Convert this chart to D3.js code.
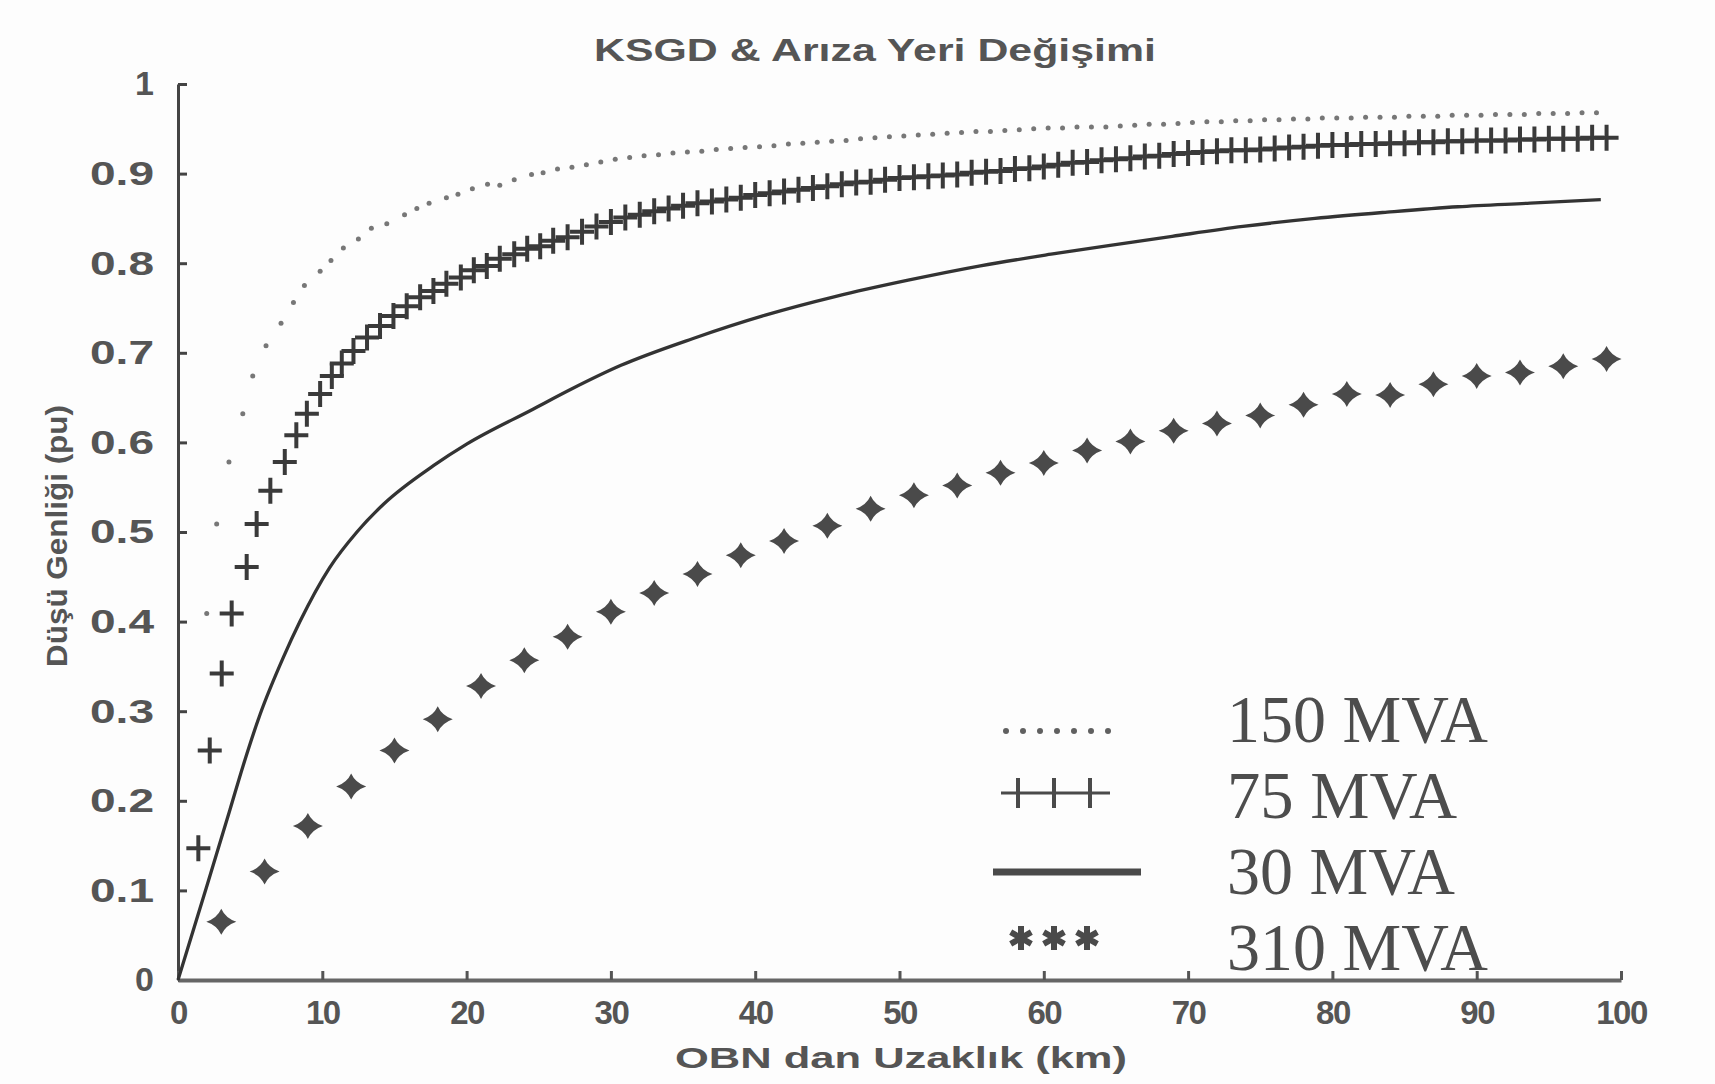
<!DOCTYPE html>
<html><head><meta charset="utf-8">
<script src="https://cdn.jsdelivr.net/npm/d3@7"></script>
<style>html,body{margin:0;padding:0;background:#fff;}svg{display:block;}</style>
</head><body>
<div id="chart"></div>
<script>
// ---------- DATA ----------
const chartTitle = "KSGD & Arıza Yeri Değişimi";
const xLabel = "OBN dan Uzaklık (km)";
const yLabel = "Düşü Genliği (pu)";
const xTicks = [0,10,20,30,40,50,60,70,80,90,100];
const xTickLabels = ["0","10","20","30","40","50","60","70","80","90","100"];
const yTicks = [0,0.1,0.2,0.3,0.4,0.5,0.6,0.7,0.8,0.9,1];
const yTickLabels = ["0","0.1","0.2","0.3","0.4","0.5","0.6","0.7","0.8","0.9","1"];
const seriesNames = ["150 MVA","75 MVA","30 MVA","310 MVA"];

// 150 MVA (dotted)
const km150 = [1.99,2.68,3.53,4.49,5.18,6.1,7.14,8.0,8.76,9.85,10.6,11.46,12.5,13.4,14.47,15.7,16.55,17.4,18.6,19.4,20.4,21.45,22.3,23.3,24.5,25.3,26.3,
 27.3,28.3,29.3,30.3,31.3,32.3,33.3,34.3,35.3,36.3,37.3,38.3,39.3,40.3,41.3,42.3,43.3,44.3,45.3,46.3,47.3,48.3,49.3,50.3,51.3,52.3,53.3,54.3,55.3,56.3,57.3,58.3,59.3,60.3,61.3,62.3,63.3,64.3,65.3,66.3,67.3,68.3,69.3,70.3,71.3,72.3,73.3,74.3,75.3,76.3,77.3,78.3,79.3,80.3,81.3,82.3,83.3,84.3,85.3,86.3,87.3,88.3,89.3,90.3,91.3,92.3,93.3,94.3,95.3,96.3,97.3,98.3];
const v150 = [0.409,0.509,0.578,0.632,0.674,0.708,0.733,0.756,0.775,0.791,0.803,0.817,0.827,0.839,0.844,0.854,0.861,0.867,0.873,0.877,0.883,0.888,0.887,0.893,0.899,0.901,0.905,
 0.907,0.910,0.913,0.916,0.918,0.920,0.921,0.923,0.924,0.925,0.927,0.928,0.929,0.930,0.931,0.933,0.934,0.935,0.936,0.937,0.939,0.940,0.941,0.942,0.943,0.944,0.945,0.946,0.947,0.947,0.948,0.949,0.950,0.951,0.951,0.952,0.952,0.952,0.953,0.954,0.955,0.955,0.956,0.957,0.958,0.958,0.959,0.959,0.960,0.960,0.961,0.961,0.962,0.962,0.962,0.963,0.963,0.963,0.964,0.964,0.964,0.965,0.965,0.965,0.966,0.966,0.966,0.967,0.967,0.967,0.968,0.968,0.968];

// 75 MVA (plus markers)
const km75 = [1.41,2.2,3.03,3.72,4.76,5.45,6.4,7.4,8.2,8.93,9.85,10.66,11.35,12.16,13.1,14.0,14.93,15.85,16.78,17.7,18.6,19.6,20.5,21.4,22.3,23.3,24.2,25.1,26.0,27.0,
 28,29,30,31,32,33,34,35,36,37,38,39,40,41,42,43,44,45,46,47,48,49,50,51,52,53,54,55,56,57,58,59,60,61,62,63,64,65,66,67,68,69,70,71,72,73,74,75,76,77,78,79,80,81,82,83,84,85,86,87,88,89,90,91,92,93,94,95,96,97,98,99];
const v75 = [0.147,0.256,0.342,0.409,0.461,0.509,0.546,0.578,0.608,0.632,0.654,0.674,0.688,0.702,0.717,0.730,0.741,0.752,0.762,0.769,0.777,0.784,0.792,0.797,0.805,0.810,0.816,0.819,0.825,0.829,
 0.835,0.841,0.846,0.851,0.854,0.858,0.861,0.864,0.867,0.869,0.871,0.873,0.876,0.878,0.880,0.882,0.884,0.886,0.888,0.890,0.891,0.893,0.895,0.896,0.897,0.898,0.899,0.901,0.902,0.903,0.905,0.906,0.908,0.910,0.912,0.913,0.915,0.916,0.917,0.919,0.920,0.922,0.923,0.924,0.925,0.926,0.926,0.927,0.928,0.929,0.930,0.931,0.932,0.932,0.933,0.933,0.934,0.934,0.935,0.935,0.936,0.936,0.937,0.937,0.937,0.938,0.938,0.939,0.939,0.939,0.940,0.940];

// 30 MVA (solid line)
const km30 = [0,2.0,3.6,4.53,5.68,7.3,8.45,10.5,12.4,14.24,17.7,20.0,24.6,27.2,30.7,35.7,40.7,45.6,50.6,55.6,60.5,64.6,68.9,73.8,78.8,83.8,88.7,93.7,98.6];
const v30 = [0,0.105,0.190,0.240,0.296,0.360,0.400,0.460,0.500,0.531,0.574,0.598,0.637,0.659,0.686,0.716,0.742,0.763,0.781,0.797,0.810,0.820,0.830,0.841,0.850,0.857,0.863,0.867,0.871];

// 310 MVA (star markers)
const km310 = [3,6,9,12,15,18,21,24,27,30,33,36,39,42,45,48,51,54,57,60,63,66,69,72,75,78,81,84,87,90,93,96,99];
const v310 = [0.065,0.121,0.172,0.216,0.256,0.291,0.328,0.357,0.383,0.411,0.432,0.453,0.474,0.490,0.507,0.526,0.541,0.552,0.566,0.577,0.591,0.601,0.613,0.621,0.630,0.642,0.654,0.653,0.665,0.674,0.678,0.685,0.693];

// ---------- DRAWING ----------
const W = 1715, H = 1084;
const svg = d3.select("#chart").append("svg").attr("width", W).attr("height", H);
svg.append("rect").attr("width", W).attr("height", H).attr("fill", "#fdfdfd");

const x = d3.scaleLinear().domain([0,100]).range([178,1621]);
const y = d3.scaleLinear().domain([0,1]).range([980,84]);

const sans = "'Liberation Sans', Arial, sans-serif";
const serif = "'Liberation Serif', 'Times New Roman', serif";
const txt = "#555";

// title
svg.append("text").attr("x", 594).attr("y", 61)
  .attr("font-family", sans).attr("font-weight", "bold").attr("font-size", 31)
  .attr("fill", txt).attr("textLength", 562).attr("lengthAdjust", "spacingAndGlyphs")
  .text(chartTitle);

// y axis
const yAxis = svg.append("g").attr("transform", `translate(${x(0)},0)`)
  .call(d3.axisLeft(y).tickValues(yTicks).tickFormat((d,i)=>yTickLabels[i])
    .tickSizeInner(-9).tickSizeOuter(0).tickPadding(24));
yAxis.select(".domain").attr("stroke", "#444").attr("stroke-width", 3);
yAxis.selectAll(".tick line").attr("stroke", "#444").attr("stroke-width", 3);
yAxis.selectAll(".tick text").attr("font-family", sans).attr("font-weight", "bold")
  .attr("font-size", 34).attr("fill", txt)
  .each(function(d,i){ if (yTickLabels[i].length > 2) d3.select(this).attr("textLength", 64).attr("lengthAdjust","spacingAndGlyphs"); });

// x axis
const xAxis = svg.append("g").attr("transform", `translate(0,${y(0)})`)
  .call(d3.axisBottom(x).tickValues(xTicks).tickFormat((d,i)=>xTickLabels[i])
    .tickSizeInner(-9).tickSizeOuter(0).tickPadding(21));
xAxis.select(".domain").attr("stroke", "#666").attr("stroke-width", 4);
xAxis.selectAll(".tick line").attr("stroke", "#555").attr("stroke-width", 3);
xAxis.selectAll(".tick text").attr("font-family", sans).attr("font-weight", "bold")
  .attr("font-size", 33).attr("fill", txt).attr("letter-spacing", -1.5);

// axis labels
svg.append("text").attr("x", 675).attr("y", 1068)
  .attr("font-family", sans).attr("font-weight", "bold").attr("font-size", 30)
  .attr("fill", txt).attr("textLength", 452).attr("lengthAdjust", "spacingAndGlyphs")
  .text(xLabel);
svg.append("text").attr("transform", "translate(67,536) rotate(-90)")
  .attr("x", -131).attr("y", 0)
  .attr("font-family", sans).attr("font-weight", "bold").attr("font-size", 29)
  .attr("fill", txt).attr("textLength", 262).attr("lengthAdjust", "spacingAndGlyphs")
  .text(yLabel);

// symbol types
const plusType = { draw(ctx) { ctx.moveTo(-12,0); ctx.lineTo(12,0); ctx.moveTo(0,-13); ctx.lineTo(0,13); } };
const star4Type = { draw(ctx) {
  const rx = 15, ry = 13, c = 0.28;
  ctx.moveTo(rx,0);
  ctx.quadraticCurveTo(rx*c, ry*c, 0, ry);
  ctx.quadraticCurveTo(-rx*c, ry*c, -rx, 0);
  ctx.quadraticCurveTo(-rx*c, -ry*c, 0, -ry);
  ctx.quadraticCurveTo(rx*c, -ry*c, rx, 0);
  ctx.closePath();
} };

const plot = svg.append("g");

// 30 MVA line
const d30 = km30.map((k,i)=>({k, v:v30[i]}));
plot.append("path").datum(d30)
  .attr("d", d3.line().x(d=>x(d.k)).y(d=>y(d.v)).curve(d3.curveMonotoneX))
  .attr("fill", "none").attr("stroke", "#333").attr("stroke-width", 3.3);

// 150 MVA dots
const d150 = km150.map((k,i)=>({k, v:v150[i]}));
plot.append("g").selectAll("circle").data(d150).join("circle")
  .attr("cx", d=>x(d.k)).attr("cy", d=>y(d.v)).attr("r", 2.5).attr("fill", "#777");

// 75 MVA pluses
const d75 = km75.map((k,i)=>({k, v:v75[i]}));
const plusPath = d3.symbol().type(plusType)();
plot.append("g").selectAll("path").data(d75).join("path")
  .attr("transform", d=>`translate(${x(d.k)},${y(d.v)})`)
  .attr("d", plusPath).attr("fill", "none").attr("stroke", "#3a3a3a").attr("stroke-width", 4);

// 310 MVA stars
const d310 = km310.map((k,i)=>({k, v:v310[i]}));
const starPath = d3.symbol().type(star4Type)();
plot.append("g").selectAll("path").data(d310).join("path")
  .attr("transform", d=>`translate(${x(d.k)},${y(d.v)})`)
  .attr("d", starPath).attr("fill", "#4a4a4a");

// ---------- LEGEND ----------
const leg = svg.append("g");
const legTextX = 1227;
const legBase = [742, 818, 894, 970];
const legLen = [261, 230, 228, 261];
seriesNames.forEach((name,i)=>{
  leg.append("text").attr("x", legTextX).attr("y", legBase[i])
    .attr("font-family", serif).attr("font-size", 68).attr("fill", "#4d4d4d")
    .attr("textLength", legLen[i]).attr("lengthAdjust", "spacingAndGlyphs")
    .text(name);
});
// dotted sample
leg.append("g").selectAll("circle").data(d3.range(7)).join("circle")
  .attr("cx", i=>1006 + i*17).attr("cy", 731).attr("r", 3).attr("fill", "#606060");
// plus sample
leg.append("line").attr("x1", 1001).attr("x2", 1110).attr("y1", 793).attr("y2", 793)
  .attr("stroke", "#4a4a4a").attr("stroke-width", 3);
leg.append("g").selectAll("line").data([1018,1054,1090]).join("line")
  .attr("x1", d=>d).attr("x2", d=>d).attr("y1", 778).attr("y2", 808)
  .attr("stroke", "#4a4a4a").attr("stroke-width", 4);
// solid sample
leg.append("line").attr("x1", 993).attr("x2", 1141).attr("y1", 872).attr("y2", 872)
  .attr("stroke", "#4a4a4a").attr("stroke-width", 7);
// star sample
const astPath = d3.symbol().type(d3.symbolAsterisk).size(400)();
leg.append("g").selectAll("path").data([1021,1054,1087]).join("path")
  .attr("transform", d=>`translate(${d},938)`)
  .attr("d", astPath).attr("fill", "none").attr("stroke", "#4a4a4a").attr("stroke-width", 6);
</script>
</body></html>
